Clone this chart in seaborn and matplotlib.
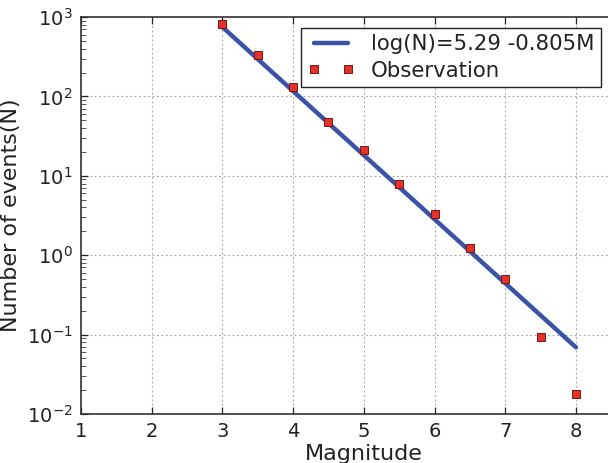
import numpy as np
import pandas as pd
import matplotlib
matplotlib.use("Agg")
import matplotlib.pyplot as plt
import matplotlib.ticker as mticker
import seaborn as sns

# observed number of events per magnitude bin
magnitude = [3.0, 3.5, 4.0, 4.5, 5.0, 5.5, 6.0, 6.5, 7.0, 7.5, 8.0]
n_events = [820, 330, 131, 47.5, 21, 7.9, 3.3, 1.23, 0.5, 0.093, 0.018]

# Gutenberg-Richter fit, end points
fit_m = [3.0, 8.0]
fit_n = [750, 0.069]
fit_label = "log(N)=5.29 -0.805M"

sns.set_theme(style="ticks", rc={
    "axes.edgecolor": "#333333",
    "axes.linewidth": 1.2,
    "xtick.direction": "in",
    "ytick.direction": "in",
    "xtick.color": "#222222",
    "ytick.color": "#222222",
    "text.color": "#222222",
    "axes.labelcolor": "#222222",
})
plt.rcParams["font.family"] = ["DejaVu Sans"]

obs = pd.DataFrame({"M": magnitude, "N": n_events})
fit = pd.DataFrame({"M": fit_m, "N": fit_n})

fig = plt.figure(figsize=(6.08, 4.63), dpi=100)
ax = fig.add_axes([0.1332, 0.106, 0.9304, 0.857])

sns.lineplot(data=fit, x="M", y="N", ax=ax, color="#3a52a8", linewidth=3.2,
             label=fit_label, errorbar=None)
sns.lineplot(data=obs, x="M", y="N", ax=ax, linestyle="", marker="s",
             markersize=5.6, color="#e8302a", markeredgecolor="#6b1a14",
             markeredgewidth=0.7, label="Observation", errorbar=None)

ax.set_yscale("log")
ax.set_xlim(1, 9)
ax.set_ylim(1e-2, 1e3)
ax.set_xticks([1, 2, 3, 4, 5, 6, 7, 8])
ax.yaxis.set_minor_locator(mticker.LogLocator(base=10, subs=np.arange(2, 10) * 1.0, numticks=20))
ax.yaxis.set_minor_formatter(mticker.NullFormatter())
ax.grid(True, which="major", linestyle=(0, (1.5, 2.5)), color="#a0a0a0", linewidth=0.8)
ax.tick_params(which="both", top=True, right=True, labelsize=14)
ax.tick_params(which="major", length=5, width=0.9, pad=6)
ax.tick_params(axis="y", which="minor", length=3.5, width=0.7, color="#555555")
ax.set_xlabel("Magnitude", fontsize=16, labelpad=2)
ax.set_ylabel("Number of events(N)", fontsize=16, labelpad=4)

leg = ax.legend(loc="upper left", bbox_to_anchor=(0.495, 0.9395),
                bbox_transform=fig.transFigure, fontsize=15.3, numpoints=2,
                fancybox=False, framealpha=1, edgecolor="#222222",
                handlelength=2.2, borderpad=0.3, labelspacing=0.3,
                handletextpad=0.8, borderaxespad=0)
leg.get_frame().set_linewidth(1.0)

fig.savefig("out.png", dpi=100)
